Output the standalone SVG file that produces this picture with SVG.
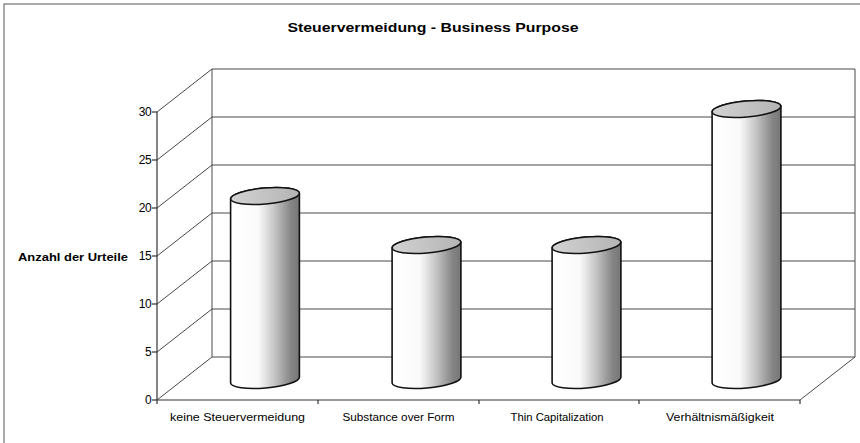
<svg xmlns="http://www.w3.org/2000/svg" width="860" height="443" viewBox="0 0 860 443">
<defs>
<linearGradient id="body" x1="0" y1="0" x2="1" y2="0">
<stop offset="0" stop-color="#ffffff"/>
<stop offset="0.4" stop-color="#fafafa"/>
<stop offset="0.62" stop-color="#c9c9c9"/>
<stop offset="0.88" stop-color="#858585"/>
<stop offset="1" stop-color="#767676"/>
</linearGradient>
<linearGradient id="top" x1="0" y1="0" x2="1" y2="0">
<stop offset="0" stop-color="#d2d2d2"/>
<stop offset="1" stop-color="#b4b4b4"/>
</linearGradient>
<style>
.frame{fill:none;stroke:#555;stroke-width:1}
.grid{stroke:#4a4a4a;stroke-width:1;fill:none}
.axis{stroke:#333;stroke-width:1.2;fill:none}
.cylb{fill:url(#body);stroke:#111;stroke-width:1.6}
.cylt{fill:url(#top);stroke:#111;stroke-width:1.6}
.tick{font-family:"Liberation Sans",Arial,sans-serif;font-size:12px;fill:#000;text-anchor:end;letter-spacing:-0.6px}
.cat{font-family:"Liberation Sans",Arial,sans-serif;font-size:11px;fill:#000;text-anchor:middle}
.title{font-family:"Liberation Sans",Arial,sans-serif;font-size:13px;font-weight:bold;fill:#000;text-anchor:middle}
.ylab{font-family:"Liberation Sans",Arial,sans-serif;font-size:11px;font-weight:bold;fill:#000}
</style>
</defs>
<rect x="0" y="0" width="860" height="443" fill="#ffffff"/>
<rect x="4" y="4" width="900" height="500" class="frame"/>
<g id="title"><text class="title" x="433" y="32" textLength="291" lengthAdjust="spacingAndGlyphs">Steuervermeidung - Business Purpose</text></g>
<g id="connectors">
<g id="backwall">
<line class="grid" x1="212" y1="69" x2="855" y2="69"/>
<line class="grid" x1="212" y1="117" x2="855" y2="117"/>
<line class="grid" x1="212" y1="165" x2="855" y2="165"/>
<line class="grid" x1="212" y1="213" x2="855" y2="213"/>
<line class="grid" x1="212" y1="261" x2="855" y2="261"/>
<line class="grid" x1="212" y1="309" x2="855" y2="309"/>
<line class="grid" x1="212" y1="357" x2="855" y2="357"/>
<line class="grid" x1="212" y1="69" x2="212" y2="357"/>
<line class="grid" x1="855" y1="69" x2="855" y2="357"/>
</g>
<g id="sidewall">
<line class="grid" x1="157" y1="112" x2="212" y2="69"/>
<line class="grid" x1="157" y1="160" x2="212" y2="117"/>
<line class="grid" x1="157" y1="208" x2="212" y2="165"/>
<line class="grid" x1="157" y1="256" x2="212" y2="213"/>
<line class="grid" x1="157" y1="304" x2="212" y2="261"/>
<line class="grid" x1="157" y1="352" x2="212" y2="309"/>
<line class="grid" x1="157" y1="400" x2="212" y2="357"/>
<line class="grid" x1="800" y1="400" x2="855" y2="357"/>
</g>
<g id="axes">
<line class="axis" x1="157" y1="112" x2="157" y2="400"/>
<line class="axis" x1="157" y1="400" x2="800" y2="400"/>
<line class="axis" x1="152" y1="112" x2="157" y2="112"/>
<line class="axis" x1="152" y1="160" x2="157" y2="160"/>
<line class="axis" x1="152" y1="208" x2="157" y2="208"/>
<line class="axis" x1="152" y1="256" x2="157" y2="256"/>
<line class="axis" x1="152" y1="304" x2="157" y2="304"/>
<line class="axis" x1="152" y1="352" x2="157" y2="352"/>
<line class="axis" x1="152" y1="400" x2="157" y2="400"/>
<line class="axis" x1="157" y1="400" x2="157" y2="404"/>
<line class="axis" x1="318" y1="400" x2="318" y2="404"/>
<line class="axis" x1="479" y1="400" x2="479" y2="404"/>
<line class="axis" x1="639" y1="400" x2="639" y2="404"/>
<line class="axis" x1="800" y1="400" x2="800" y2="404"/>
</g>
</g>
<g id="yticks">
<text class="tick" x="151" y="116">30</text>
<text class="tick" x="151" y="164">25</text>
<text class="tick" x="151" y="212">20</text>
<text class="tick" x="151" y="260">15</text>
<text class="tick" x="151" y="308">10</text>
<text class="tick" x="151" y="356">5</text>
<text class="tick" x="151" y="404">0</text>
</g>
<g id="ylabel"><text class="ylab" x="18" y="261" textLength="110" lengthAdjust="spacingAndGlyphs">Anzahl der Urteile</text></g>
<g id="bar-keine-steuervermeidung">
<path class="cylb" d="M230.6,199 L230.6,383 A34.5 8 -5 0 0 299.4,377 L299.4,193 A34.5 8 -5 0 0 230.6,199 Z"/>
<ellipse class="cylt" cx="265" cy="196" rx="34.5" ry="8" transform="rotate(-5 265 196)"/>
<text class="cat" x="237.5" y="421" textLength="135" lengthAdjust="spacingAndGlyphs">keine Steuervermeidung</text>
</g>
<g id="bar-substance-over-form">
<path class="cylb" d="M392.1,248 L392.1,383 A34.5 8 -5 0 0 460.9,377 L460.9,242 A34.5 8 -5 0 0 392.1,248 Z"/>
<ellipse class="cylt" cx="426.5" cy="245" rx="34.5" ry="8" transform="rotate(-5 426.5 245)"/>
<text class="cat" x="398.5" y="421" textLength="112" lengthAdjust="spacingAndGlyphs">Substance over Form</text>
</g>
<g id="bar-thin-capitalization">
<path class="cylb" d="M552.1,248 L552.1,383 A34.5 8 -5 0 0 620.9,377 L620.9,242 A34.5 8 -5 0 0 552.1,248 Z"/>
<ellipse class="cylt" cx="586.5" cy="245" rx="34.5" ry="8" transform="rotate(-5 586.5 245)"/>
<text class="cat" x="557" y="421" textLength="93" lengthAdjust="spacingAndGlyphs">Thin Capitalization</text>
</g>
<g id="bar-verhaeltnismaessigkeit">
<path class="cylb" d="M712.1,112 L712.1,383 A34.5 8 -5 0 0 780.9,377 L780.9,106 A34.5 8 -5 0 0 712.1,112 Z"/>
<ellipse class="cylt" cx="746.5" cy="109" rx="34.5" ry="8" transform="rotate(-5 746.5 109)"/>
<text class="cat" x="720" y="421" textLength="108" lengthAdjust="spacingAndGlyphs">Verhältnismäßigkeit</text>
</g>
</svg>
